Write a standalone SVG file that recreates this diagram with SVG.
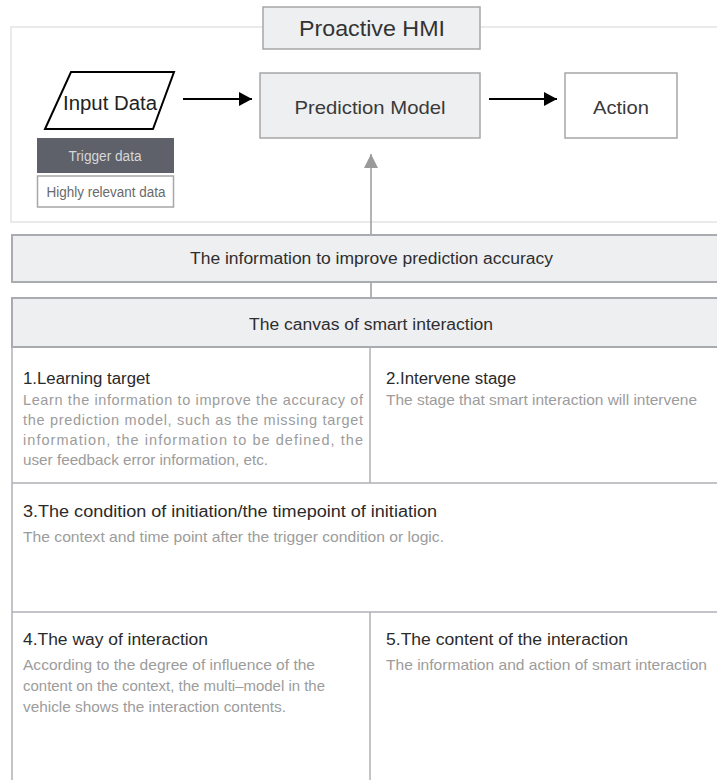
<svg xmlns="http://www.w3.org/2000/svg" width="717" height="780" viewBox="0 0 717 780">
<style>
text{font-family:"Liberation Sans","Noto Sans",Arial,sans-serif}
.frame{fill:none;stroke:#e3e3e3;stroke-width:1.5}
.gbox{fill:#eeeff1;stroke:#a6a6a6;stroke-width:1.5}
.wbox{fill:#ffffff;stroke:#a6a6a6;stroke-width:1.5}
.bar{fill:#eeeff1;stroke:#a9abb0;stroke-width:2}
.grid{fill:none;stroke:#aeb1b6;stroke-width:1.5}
.big{font-size:19px;fill:#3a3a3a;text-anchor:middle}
.hdr{font-size:16px;fill:#2e2e2e;text-anchor:middle}
.ttl{font-size:16px;fill:#2a2a2a}
.body{font-size:14.5px;fill:#9c9c9c}
.blk{stroke:#000;stroke-width:2;fill:none}
.gry{stroke:#9a9a9a;stroke-width:1.5;fill:none}
</style>
<defs>
<marker id="ab" viewBox="0 0 13 14" refX="13" refY="7" markerWidth="13" markerHeight="14" markerUnits="userSpaceOnUse" orient="auto"><path d="M0,0 L13,7 L0,14 Z" fill="#000"/></marker>
<marker id="ag" viewBox="0 0 14 14" refX="14" refY="7" markerWidth="14" markerHeight="14" markerUnits="userSpaceOnUse" orient="auto"><path d="M0,0 L14,7 L0,14 Z" fill="#9a9a9a"/></marker>
</defs>
<rect width="717" height="780" fill="#ffffff"/>
<g id="frame"><path class="frame" d="M720,27 H11 V222 H720"/></g>
<g id="connectors">
<line class="blk" x1="183" y1="99" x2="252" y2="99" marker-end="url(#ab)"/>
<line class="blk" x1="489" y1="99" x2="557" y2="99" marker-end="url(#ab)"/>
<line class="gry" x1="371" y1="235" x2="371" y2="154" marker-end="url(#ag)"/>
<line class="gry" x1="371" y1="282" x2="371" y2="298"/>
</g>
<g id="proactive-hmi">
<rect class="gbox" x="263" y="7" width="217" height="42"/>
<text x="372" y="36" font-size="22" fill="#333" text-anchor="middle" textLength="146" lengthAdjust="spacingAndGlyphs">Proactive HMI</text>
</g>
<g id="input-data">
<polygon points="71,72 174,72 153,129 45,129" fill="#fff" stroke="#000" stroke-width="2"/>
<text x="110" y="110" font-size="20" fill="#222" text-anchor="middle" textLength="94" lengthAdjust="spacingAndGlyphs">Input Data</text>
</g>
<g id="trigger-data">
<rect x="37" y="138" width="137" height="35" fill="#5e6169"/>
<text x="105" y="161" font-size="14" fill="#d6d7da" text-anchor="middle" textLength="73" lengthAdjust="spacingAndGlyphs">Trigger data</text>
</g>
<g id="highly-relevant-data">
<rect class="wbox" x="37.5" y="176" width="136" height="31" stroke="#777"/>
<text x="106" y="197" font-size="14" fill="#6a6a6a" text-anchor="middle" textLength="119" lengthAdjust="spacingAndGlyphs">Highly relevant data</text>
</g>
<g id="prediction-model">
<rect class="gbox" x="260" y="73" width="220" height="65"/>
<text class="big" x="370" y="114" textLength="151" lengthAdjust="spacingAndGlyphs">Prediction Model</text>
</g>
<g id="action">
<rect class="wbox" x="565" y="73" width="112" height="65"/>
<text class="big" x="621" y="114" textLength="56" lengthAdjust="spacingAndGlyphs">Action</text>
</g>
<g id="info-bar">
<rect class="bar" x="12" y="235" width="710" height="47"/>
<text class="hdr" x="371.5" y="264" textLength="363" lengthAdjust="spacingAndGlyphs">The information to improve prediction accuracy</text>
</g>
<g id="canvas-bar">
<rect class="bar" x="12" y="298" width="710" height="49"/>
<text class="hdr" x="371" y="330" textLength="244" lengthAdjust="spacingAndGlyphs">The canvas of smart interaction</text>
</g>
<g id="grid">
<path class="grid" d="M12,347 V780 M12,483 H720 M12,612 H720 M370,347 V483 M370,612 V780"/>
</g>
<g id="cell-1">
<text class="ttl" x="23" y="384" textLength="127" lengthAdjust="spacingAndGlyphs">1.Learning target</text>
<text class="body" x="23" y="405" textLength="340" lengthAdjust="spacing">Learn the information to improve the accuracy of</text>
<text class="body" x="23" y="425" textLength="340" lengthAdjust="spacing">the prediction model, such as the missing target</text>
<text class="body" x="23" y="445" textLength="340" lengthAdjust="spacing">information, the information to be defined, the</text>
<text class="body" x="23" y="465" textLength="245" lengthAdjust="spacingAndGlyphs">user feedback error information, etc.</text>
</g>
<g id="cell-2">
<text class="ttl" x="386" y="384" textLength="130" lengthAdjust="spacingAndGlyphs">2.Intervene stage</text>
<text class="body" x="386" y="405" textLength="311" lengthAdjust="spacingAndGlyphs">The stage that smart interaction will intervene</text>
</g>
<g id="cell-3">
<text class="ttl" x="23" y="517" textLength="414" lengthAdjust="spacingAndGlyphs">3.The condition of initiation/the timepoint of initiation</text>
<text class="body" x="23" y="542" textLength="421" lengthAdjust="spacingAndGlyphs">The context and time point after the trigger condition or logic.</text>
</g>
<g id="cell-4">
<text class="ttl" x="23" y="645" textLength="185" lengthAdjust="spacingAndGlyphs">4.The way of interaction</text>
<text class="body" x="23" y="670" textLength="292" lengthAdjust="spacingAndGlyphs">According to the degree of influence of the</text>
<text class="body" x="23" y="691" textLength="302" lengthAdjust="spacingAndGlyphs">content on the context, the multi–model in the</text>
<text class="body" x="23" y="712" textLength="263" lengthAdjust="spacingAndGlyphs">vehicle shows the interaction contents.</text>
</g>
<g id="cell-5">
<text class="ttl" x="386" y="645" textLength="242" lengthAdjust="spacingAndGlyphs">5.The content of the interaction</text>
<text class="body" x="386" y="670" textLength="321" lengthAdjust="spacingAndGlyphs">The information and action of smart interaction</text>
</g>
</svg>
